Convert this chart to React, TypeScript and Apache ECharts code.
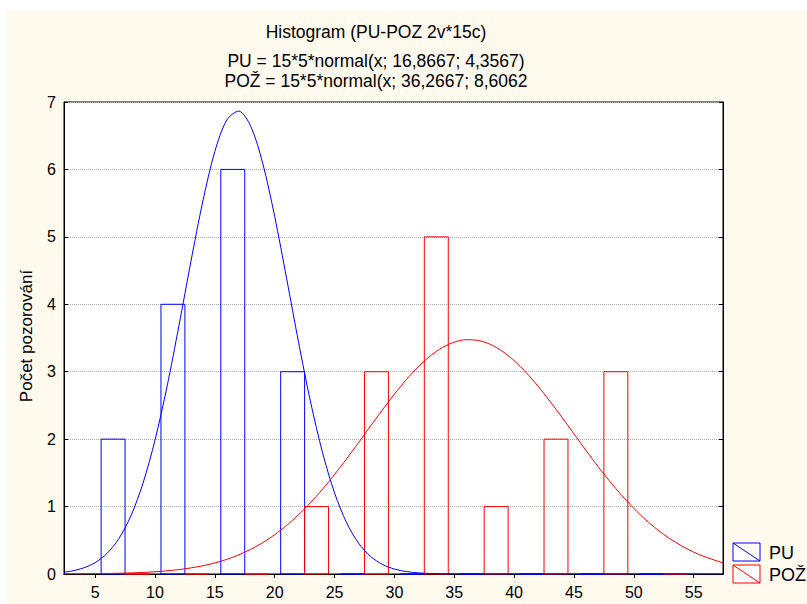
import React, { useEffect, useRef } from "react";
import * as echarts from "echarts";

// Histogram bins (lower edges, width 5)
const binStarts = [5, 10, 15, 20, 25, 30, 35, 40, 45, 50];
const puCounts = [2, 4, 6, 3, 0, 0, 0, 0, 0, 0];
const pozCounts = [0, 0, 0, 1, 3, 5, 1, 2, 3, 0];

// Fitted normal curves
const curveX = [2.4, 3, 4, 5, 6, 7, 8, 9, 10, 11, 12, 13, 14, 15, 16, 17, 18, 19, 20, 21, 22, 23, 24, 25, 26, 27, 28, 29, 30,
  31, 32, 33, 34, 35, 36, 37, 38, 39, 40, 41, 42, 43, 44, 45, 46, 47, 48, 49, 50, 51, 52, 53, 54, 55, 56, 57, 57.45];
const puCurve = [0.028, 0.043, 0.088, 0.168, 0.306, 0.529, 0.866, 1.346, 1.984, 2.774, 3.681, 4.632, 5.531, 6.266, 6.734, 6.865,
  6.64, 6.092, 5.303, 4.379, 3.431, 2.549, 1.798, 1.203, 0.763, 0.459, 0.262, 0.142, 0.073, 0.036, 0.017, 0.007, 0.003, 0.001,
  0, 0, 0, 0, 0, 0, 0, 0, 0, 0, 0, 0, 0, 0, 0, 0, 0, 0, 0, 0, 0, 0, 0];
const pozCurve = [0.001, 0.002, 0.003, 0.005, 0.007, 0.011, 0.016, 0.023, 0.033, 0.047, 0.065, 0.09, 0.122, 0.164, 0.217, 0.284,
  0.366, 0.465, 0.583, 0.721, 0.88, 1.06, 1.259, 1.476, 1.707, 1.947, 2.192, 2.434, 2.667, 2.883, 3.074, 3.235, 3.358, 3.439,
  3.475, 3.464, 3.407, 3.306, 3.164, 2.989, 2.785, 2.56, 2.322, 2.078, 1.834, 1.597, 1.373, 1.164, 0.973, 0.803, 0.654, 0.525,
  0.416, 0.325, 0.251, 0.191, 0.166];

const xTicks = [5, 10, 15, 20, 25, 30, 35, 40, 45, 50, 55];
const seriesNames = ["PU", "POŽ"];
const seriesColors = ["#0000ff", "#ff0000"];
const titleLines = [
  "Histogram (PU-POZ 2v*15c)",
  "PU = 15*5*normal(x; 16,8667; 4,3567)",
  "POŽ = 15*5*normal(x; 36,2667; 8,6062",
];
const yAxisName = "Počet pozorování";

const FONT = "Liberation Sans, Arial, sans-serif";

function barSeries(name: string, counts: number[], color: string, offset: number) {
  return {
    type: "custom",
    name,
    xAxisIndex: 0,
    yAxisIndex: 0,
    data: binStarts.map((s, i) => [s, counts[i]]),
    encode: { x: 0, y: 1 },
    renderItem: (params: any, api: any) => {
      const s = api.value(0);
      const v = api.value(1);
      const p0 = api.coord([s + offset, v]);
      const p1 = api.coord([s + offset + 2, 0]);
      return {
        type: "rect",
        shape: { x: p0[0], y: p0[1], width: p1[0] - p0[0], height: p1[1] - p0[1] },
        style: { fill: "none", stroke: color, lineWidth: 1 },
      };
    },
    z: 2,
  };
}

export default function App() {
  const ref = useRef<HTMLDivElement>(null);
  useEffect(() => {
    document.body.style.margin = "0";
    const chart = echarts.init(ref.current!, undefined, { renderer: "svg" });
    const legendGraphics: any[] = [];
    seriesNames.forEach((n, i) => {
      const y = 543 + i * 22;
      legendGraphics.push({
        type: "rect",
        shape: { x: 733, y, width: 27, height: 18 },
        style: { fill: "#fff", stroke: seriesColors[i], lineWidth: 1 },
      });
      legendGraphics.push({
        type: "line",
        shape: { x1: 733, y1: y, x2: 760, y2: y + 18 },
        style: { stroke: seriesColors[i], lineWidth: 1 },
      });
      legendGraphics.push({
        type: "text",
        x: 769,
        y: y + 10,
        style: { text: n, fontSize: 18, fontFamily: FONT, fill: "#000", textVerticalAlign: "middle" },
      });
    });
    const titleGraphics = titleLines.map((t, i) => ({
      type: "text",
      x: 376,
      y: [32, 61, 81][i],
      style: {
        text: t,
        fontSize: 17.5,
        fontFamily: FONT,
        fill: "#000",
        textAlign: "center",
        textVerticalAlign: "middle",
      },
    }));
    const option: any = {
      animation: false,
      backgroundColor: "transparent",
      grid: {
        left: 64,
        right: 84,
        top: 102,
        bottom: 30,
        show: true,
        backgroundColor: "#ffffff",
        borderColor: "#000",
        borderWidth: 1,
      },
      xAxis: [
        {
          type: "value",
          min: 2.4,
          max: 57.45,
          axisLine: { show: true, lineStyle: { color: "#000", width: 1 } },
          axisTick: { show: true, customValues: xTicks, length: 3, lineStyle: { color: "#000" } },
          axisLabel: { customValues: xTicks, fontSize: 16, fontFamily: FONT, color: "#000", margin: 10 },
          splitLine: { show: false },
        },
        {
          type: "value",
          position: "top",
          min: 2.4,
          max: 57.45,
          axisLine: { show: true, lineStyle: { color: "#000" } },
          axisTick: { show: true, inside: true, customValues: xTicks, length: 4, lineStyle: { color: "#000" } },
          axisLabel: { show: false },
          splitLine: { show: false },
        },
      ],
      yAxis: [
        {
          type: "value",
          min: 0,
          max: 7,
          interval: 1,
          axisLine: { show: true, lineStyle: { color: "#000", width: 1 } },
          axisTick: { show: true, inside: true, length: 4, lineStyle: { color: "#000" } },
          axisLabel: { fontSize: 16, fontFamily: FONT, color: "#000", margin: 8 },
          splitLine: { show: true, lineStyle: { color: "#a8a8a8", type: [1, 1], width: 1 } },
        },
        {
          type: "value",
          position: "right",
          min: 0,
          max: 7,
          interval: 1,
          axisLine: { show: true, lineStyle: { color: "#000" } },
          axisTick: { show: true, inside: true, length: 4, lineStyle: { color: "#000" } },
          axisLabel: { show: false },
          splitLine: { show: false },
        },
      ],
      graphic: [
        ...titleGraphics,
        {
          type: "text",
          x: 26,
          y: 336,
          rotation: Math.PI / 2,
          style: {
            text: yAxisName,
            fontSize: 17,
            fontFamily: FONT,
            fill: "#000",
            textAlign: "center",
            textVerticalAlign: "middle",
          },
        },
        ...legendGraphics,
      ],
      series: [
        barSeries(seriesNames[0], puCounts, seriesColors[0], 0.5),
        barSeries(seriesNames[1], pozCounts, seriesColors[1], 2.5),
        {
          type: "line",
          name: seriesNames[0],
          data: curveX.map((x, i) => [x, puCurve[i]]),
          showSymbol: false,
          symbol: "none",
          smooth: 0.3,
          lineStyle: { color: seriesColors[0], width: 1 },
          z: 3,
        },
        {
          type: "line",
          name: seriesNames[1],
          data: curveX.map((x, i) => [x, pozCurve[i]]),
          showSymbol: false,
          symbol: "none",
          smooth: 0.3,
          lineStyle: { color: seriesColors[1], width: 1 },
          z: 3,
        },
      ],
    };
    chart.setOption(option);
    return () => chart.dispose();
  }, []);
  return (
    <div style={{ position: "relative", width: 807, height: 604, background: "#ffffff" }}>
      <div style={{ position: "absolute", left: 7, top: 10, width: 800, height: 594, background: "#fff9ee" }} />
      <div ref={ref} style={{ position: "absolute", left: 0, top: 0, width: 807, height: 604 }} />
    </div>
  );
}
